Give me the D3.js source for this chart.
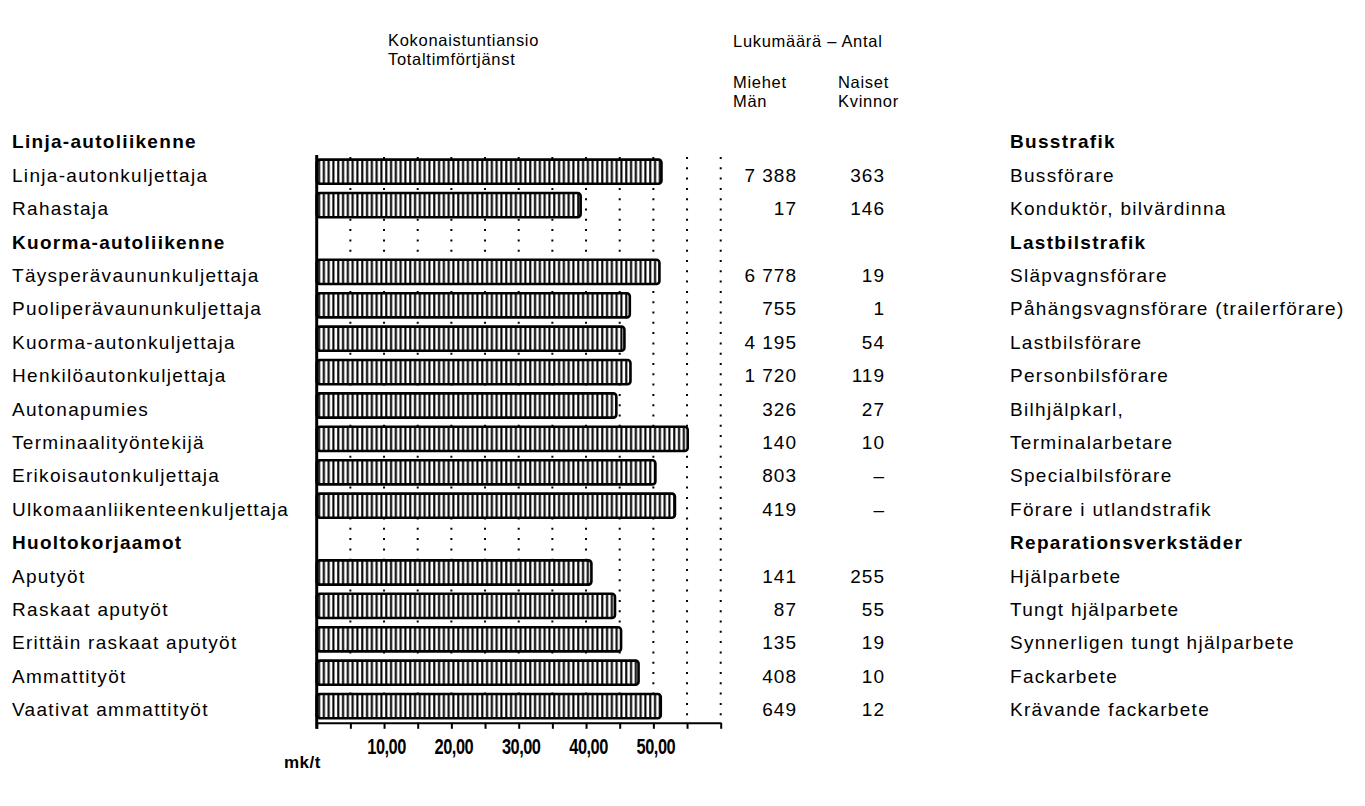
<!DOCTYPE html>
<html><head><meta charset="utf-8">
<script src="https://cdn.jsdelivr.net/npm/d3@7"></script>
<style>
html,body{margin:0;padding:0;background:#fff;}
svg text{font-family:"Liberation Sans",Arial,Helvetica,sans-serif;fill:#000;}
</style></head>
<body><div id="chart"></div>
<script>
// ---- data ----
const labelsFi = ["Linja-autoliikenne","Linja-autonkuljettaja","Rahastaja","Kuorma-autoliikenne",
  "Täysperävaununkuljettaja","Puoliperävaununkuljettaja","Kuorma-autonkuljettaja","Henkilöautonkuljettaja",
  "Autonapumies","Terminaalityöntekijä","Erikoisautonkuljettaja","Ulkomaanliikenteenkuljettaja",
  "Huoltokorjaamot","Aputyöt","Raskaat aputyöt","Erittäin raskaat aputyöt","Ammattityöt","Vaativat ammattityöt"];
const labelsSv = ["Busstrafik","Bussförare","Konduktör, bilvärdinna","Lastbilstrafik",
  "Släpvagnsförare","Påhängsvagnsförare (trailerförare)","Lastbilsförare","Personbilsförare",
  "Bilhjälpkarl,","Terminalarbetare","Specialbilsförare","Förare i utlandstrafik",
  "Reparationsverkstäder","Hjälparbete","Tungt hjälparbete","Synnerligen tungt hjälparbete","Fackarbete","Krävande fackarbete"];
const isHeading = [1,0,0,1,0,0,0,0,0,0,0,0,1,0,0,0,0,0];
const earnings = [null,51.2,39.2,null,50.9,46.5,45.7,46.6,44.5,55.1,50.3,53.2,null,40.8,44.3,45.2,47.8,51.1];
const men   = [null,7388,17,null,6778,755,4195,1720,326,140,803,419,null,141,87,135,408,649];
const women = [null,363,146,null,19,1,54,119,27,10,0,0,null,255,55,19,10,12];
const tickValues = [0,5,10,15,20,25,30,35,40,45,50,55,60];
const labelledTicks = [10,20,30,40,50];
const titleEarn = ["Kokonaistuntiansio","Totaltimförtjänst"];
const titleCount = "Lukumäärä – Antal";
const titleMen = ["Miehet","Män"];
const titleWomen = ["Naiset","Kvinnor"];
const unitLabel = "mk/t";

// ---- layout ----
const W = 1365, H = 806;
const svg = d3.select("#chart").append("svg").attr("width",W).attr("height",H);
const loc = d3.formatLocale({decimal:",", thousands:" ", grouping:[3], currency:["",""]});
const fmtN = loc.format(",d");
const fmtT = loc.format(".2f");

const x = d3.scaleLinear().domain([0,60]).range([316.7,720.7]);
const y = d3.scaleBand().domain(d3.range(labelsFi.length)).range([121.6,722.8]);
const bw = y.bandwidth();
const yc = i => y(i) + bw/2;
const plotTop = y(1), plotBottom = y.range()[1];

const FS = 19, LS = 1.3;
function txt(g, s, xx, yy, opts={}){
  return g.append("text").attr("x",xx).attr("y",yy).text(s)
    .attr("font-size", opts.fs||FS).attr("letter-spacing", opts.ls!=null?opts.ls:LS)
    .attr("font-weight", opts.bold?"bold":"normal")
    .attr("text-anchor", opts.anchor||"start");
}

// pattern
const defs = svg.append("defs");
const pat = defs.append("pattern").attr("id","stripes").attr("patternUnits","userSpaceOnUse")
  .attr("width",4.8).attr("height",10);
pat.append("rect").attr("width",4.8).attr("height",10).attr("fill","#fff");
pat.append("rect").attr("x",1.2).attr("width",2.1).attr("height",10).attr("fill","#000");

// gridlines (dotted)
svg.append("g").selectAll("line").data(tickValues.filter(d=>d>0)).join("line")
  .attr("x1",d=>x(d)).attr("x2",d=>x(d)).attr("y1",plotTop+2).attr("y2",plotBottom)
  .attr("stroke","#000").attr("stroke-width",2).attr("stroke-dasharray","2,8.3");

// bars
const barIdx = d3.range(labelsFi.length).filter(i=>earnings[i]!=null);
svg.append("g").selectAll("rect").data(barIdx).join("rect")
  .attr("x",x(0)).attr("y",i=>y(i)+4.6).attr("height",bw-9.2)
  .attr("width",i=>x(earnings[i])-x(0)).attr("rx",3)
  .attr("fill","url(#stripes)").attr("stroke","#000").attr("stroke-width",2.6);

// x axis
const xAxis = d3.axisBottom(x).tickValues(tickValues).tickSize(6).tickSizeOuter(0).tickPadding(9)
  .tickFormat(d=>labelledTicks.includes(d)?fmtT(d):"");
const ga = svg.append("g").attr("transform",`translate(0,${plotBottom})`).call(xAxis);
ga.select(".domain").attr("stroke","#000").attr("stroke-width",2);
ga.selectAll(".tick line").attr("stroke","#000").attr("stroke-width",2);
ga.selectAll(".tick text").attr("font-family","'Liberation Sans Narrow','DejaVu Sans Condensed',sans-serif")
  .attr("font-weight","bold").attr("font-size",20).attr("letter-spacing",-0.6).attr("fill","#000")
  .attr("transform","translate(2,0) scale(0.82,1.08)");

// y axis line
svg.append("line").attr("x1",x(0)).attr("x2",x(0)).attr("y1",plotTop).attr("y2",plotBottom+6)
  .attr("stroke","#000").attr("stroke-width",3);

txt(svg, unitLabel, 284, 768, {bold:true, fs:17, ls:0.5});

// left labels
const gl = svg.append("g");
labelsFi.forEach((s,i)=> txt(gl, s, 12, yc(i)+10, {bold:isHeading[i]}));
// right labels
const gr = svg.append("g");
labelsSv.forEach((s,i)=> txt(gr, s, 1010, yc(i)+10, {bold:isHeading[i]}));
// counts
const gc = svg.append("g");
men.forEach((v,i)=>{ if(v!=null) txt(gc, fmtN(v), 797, yc(i)+10, {anchor:"end", ls:1}); });
women.forEach((v,i)=>{ if(v!=null) txt(gc, v===0?"–":fmtN(v), 885, yc(i)+10, {anchor:"end", ls:1}); });

// headers
const gh = svg.append("g");
titleEarn.forEach((s,k)=> txt(gh, s, 388, 46+k*18.5, {fs:16.5, ls:0.7}));
txt(gh, titleCount, 733, 47, {fs:16.5, ls:0.7});
titleMen.forEach((s,k)=> txt(gh, s, 733, 88+k*18.5, {fs:16.5, ls:0.7}));
titleWomen.forEach((s,k)=> txt(gh, s, 838, 88+k*18.5, {fs:16.5, ls:0.7}));
</script></body></html>
